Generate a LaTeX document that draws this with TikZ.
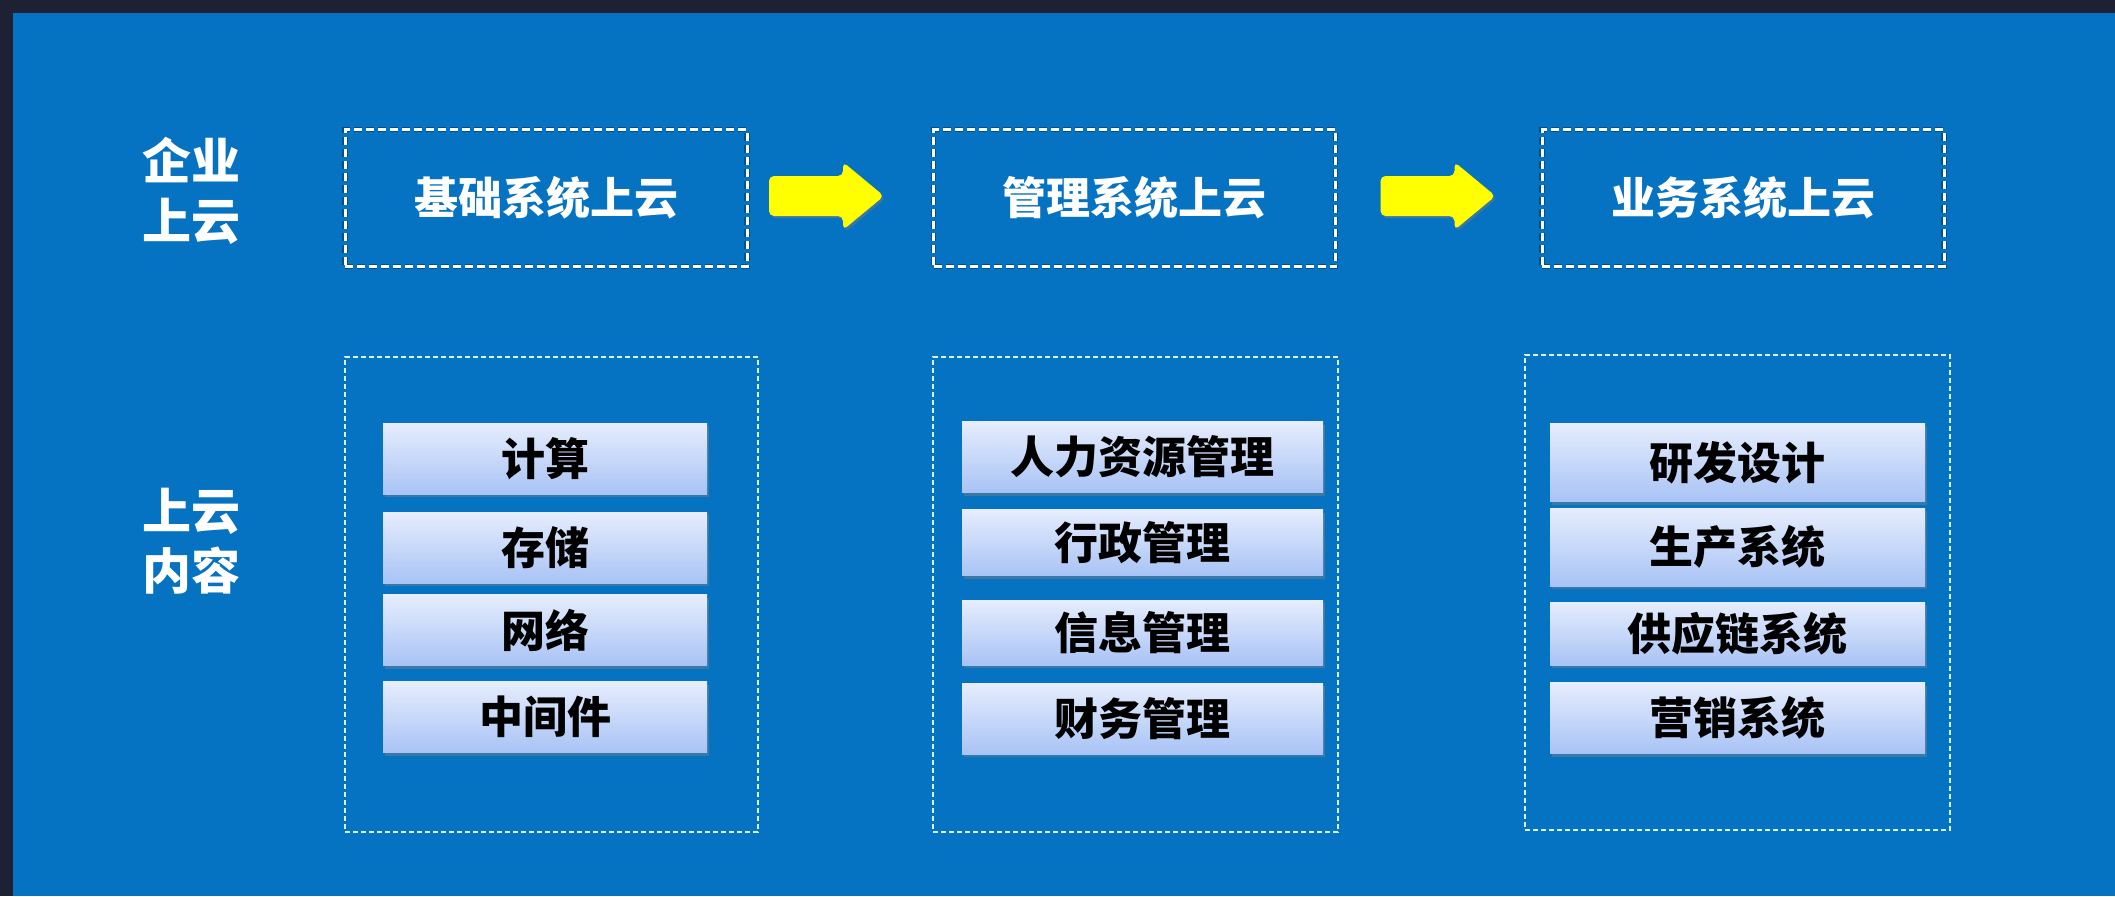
\documentclass[tikz,border=0pt]{standalone}
\usepackage{fontspec}
\newfontfamily\cjk{Noto Sans CJK SC}
\usetikzlibrary{shadows}
\definecolor{bandcol}{RGB}{30,32,52}
\definecolor{slidecol}{RGB}{5,114,194}
\definecolor{itemtop}{RGB}{230,237,253}
\definecolor{itembot}{RGB}{168,195,245}
\definecolor{arrowcol}{RGB}{255,255,0}
\tikzset{
  sidelabel/.style={text=white,font=\cjk\bfseries\fontsize{24.5pt}{30pt}\selectfont,align=center,inner sep=0pt},
  stagebox/.style={draw=white,line width=1.5pt,dash pattern=on 4pt off 2pt,
    preaction={draw=black,draw opacity=.3,line width=2.6pt},
    minimum width=201pt,minimum height=68.5pt,inner sep=0pt,
    text=white,font=\cjk\bfseries\fontsize{22pt}{26pt}\selectfont},
  partbox/.style={draw=white!85!cyan,line width=.9pt,dash pattern=on 2.5pt off 1.5pt,inner sep=0pt},
  itembox/.style={top color=itemtop,bottom color=itembot,minimum height=35.5pt,inner sep=0pt,
    drop shadow={shadow xshift=.8pt,shadow yshift=-1.6pt,opacity=.45},
    text=black,font=\cjk\bfseries\fontsize{22pt}{26pt}\selectfont},
  stagearrow/.style={fill=arrowcol,rounded corners=2.5pt,
    drop shadow={shadow xshift=.8pt,shadow yshift=-1.2pt,opacity=.4}},
}
\begin{document}
\begin{tikzpicture}[x=0.5pt,y=-0.5pt]
%%
\fill[bandcol] (0,0) rectangle (2115,896);
\fill[slidecol] (13,13) rectangle (2115,896);
\useasboundingbox (0,0) rectangle (2115,896);
  % Labels
  \node[sidelabel] (lbltop) at (191,191) {企业\\上云};
  \node[sidelabel] (lblbot) at (191,541) {上云\\内容};
  % Node: stages
  \node[stagebox] (cloudA) at (546,198) {基础系统上云};
  \node[stagebox] (cloudB) at (1134.5,198) {管理系统上云};
  \node[stagebox] (cloudC) at (1743,198) {业务系统上云};
  % Edge: cloudA -> cloudB
  \fill[stagearrow] (769,176) -- (843,176) -- (843,162) -- (884,196) -- (843,230) -- (843,216) -- (769,216) -- cycle;
  % Edge: cloudB -> cloudC
  \begin{scope}[shift={(611.5,0)}]
  \fill[stagearrow] (769,176) -- (843,176) -- (843,162) -- (884,196) -- (843,230) -- (843,216) -- (769,216) -- cycle;
  \end{scope}
  % Node: parts
  \node[partbox,minimum width=206.5pt,minimum height=237.5pt] (partA) at (551.5,594.5) {};
  \node[partbox,minimum width=202.5pt,minimum height=237.5pt] (partB) at (1135.5,594.5) {};
  \node[partbox,minimum width=212.5pt,minimum height=237.5pt] (partC) at (1737.5,592.5) {};
  % Items: partA
  \node[itembox,minimum width=162pt] (compute) at (545,458.5) {计算};
  \node[itembox,minimum width=162pt] (storage) at (545,547.5) {存储};
  \node[itembox,minimum width=162pt] (network) at (545,630) {网络};
  \node[itembox,minimum width=162pt] (middleware) at (545,717) {中间件};
  % Items: partB
  \node[itembox,minimum width=180.5pt] (hr) at (1142.5,457) {人力资源管理};
  \node[itembox,minimum width=180.5pt,minimum height=33pt] (admin) at (1142.5,542.5) {行政管理};
  \node[itembox,minimum width=180.5pt,minimum height=32.5pt] (info) at (1142.5,632.5) {信息管理};
  \node[itembox,minimum width=180.5pt] (finance) at (1142.5,718.5) {财务管理};
  % Items: partC
  \node[itembox,minimum width=187.5pt,minimum height=39pt] (rnd) at (1737.5,462.5) {研发设计};
  \node[itembox,minimum width=187.5pt,minimum height=39pt] (production) at (1737.5,547) {生产系统};
  \node[itembox,minimum width=187.5pt,minimum height=31.5pt] (supply) at (1737.5,633.5) {供应链系统};
  \node[itembox,minimum width=187.5pt] (marketing) at (1737.5,718) {营销系统};
%
\end{tikzpicture}
\end{document}
